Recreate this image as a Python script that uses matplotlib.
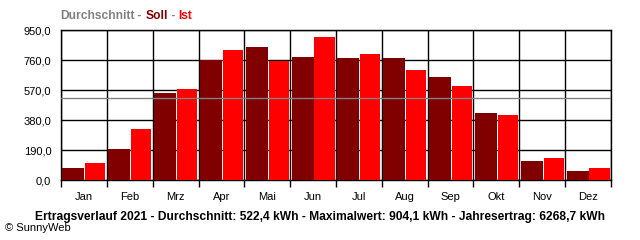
import numpy as np
from matplotlib import pyplot as plt

plt.rcParams['font.family'] = ['Liberation Sans', 'DejaVu Sans']

# monthly yield in kWh
months = ['Jan', 'Feb', 'Mrz', 'Apr', 'Mai', 'Jun',
          'Jul', 'Aug', 'Sep', 'Okt', 'Nov', 'Dez']
soll = [76, 196, 549, 760, 842, 779, 773, 773, 652, 424, 120, 57]
ist = [108, 323, 576, 823, 756, 904.1, 798, 697, 595, 412, 139, 76]
average = 522.4
yticks = [0, 190, 380, 570, 760, 950]

caption = ('Ertragsverlauf 2021 - Durchschnitt: 522,4 kWh - '
           'Maximalwert: 904,1 kWh - Jahresertrag: 6268,7 kWh')

fig = plt.figure(figsize=(6.4, 2.4), dpi=100)
ax = fig.add_axes([61 / 640, 60 / 240, 550 / 640, 150 / 240])

x = np.arange(len(months))
ax.bar(x + 0.03, soll, width=0.48, align='edge', color='#800000', zorder=3)
ax.bar(x + 0.53, ist, width=0.44, align='edge', color='#ff0000', zorder=3)

# average line
ax.axhline(average, color='#808080', lw=1, zorder=4)

ax.set_xlim(0, 12)
ax.set_ylim(0, 950)

# grid
for v in yticks:
    ax.axhline(v, color='black', lw=1, zorder=1)
for i in range(13):
    ax.axvline(i, color='black', lw=1, zorder=1)

ax.set_yticks(yticks)
ax.set_yticklabels(['{:.1f}'.format(v).replace('.', ',') for v in yticks])
ax.tick_params(axis='y', length=0, pad=7, labelsize=8)

ax.set_xticks(np.arange(13))
ax.set_xticklabels([])
ax.tick_params(axis='x', which='major', length=5, width=1, direction='out')
ax.set_xticks(x + 0.5, minor=True)
ax.set_xticklabels(months, minor=True)
ax.tick_params(axis='x', which='minor', length=0, pad=9, labelsize=8)

for s in ax.spines.values():
    s.set_color('black')
    s.set_linewidth(1)

renderer = fig.canvas.get_renderer()


def text_width(s, **kw):
    t = fig.text(0, 0, s, **kw)
    w = t.get_window_extent(renderer=renderer).width
    t.remove()
    return w


# legend title, coloured pieces placed by prefix width
parts = [('Durchschnitt', '#808080'), (' - ', '#808080'), ('Soll', '#800000'),
         (' - ', '#808080'), ('Ist', '#ff0000')]
full = ''.join(p[0] for p in parts)
tsize = 8 * 133 / text_width(full, fontsize=8, fontweight='bold')
prefix = ''
for txt, col in parts:
    xpos = 60 + text_width(prefix + '|', fontsize=tsize, fontweight='bold') \
        - text_width('|', fontsize=tsize, fontweight='bold') if prefix else 60
    fig.text(xpos / 640, 1 - 16 / 240, txt, color=col, fontsize=tsize,
             fontweight='bold', va='center', ha='left')
    prefix += txt

csize = 8 * 574 / text_width(caption, fontsize=8, fontweight='bold')
fig.text(320 / 640, 1 - 217 / 240, caption, fontsize=csize, fontweight='bold',
         ha='center', va='center')
fig.text(5 / 640, 1 - 228 / 240, '\u00a9 SunnyWeb', fontsize=8,
         ha='left', va='center')

plt.savefig('out.png', dpi=100)
